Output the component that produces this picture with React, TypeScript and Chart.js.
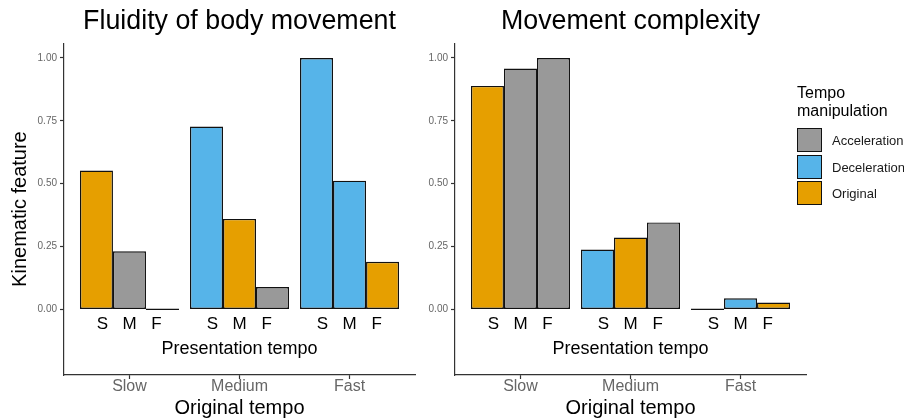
import React, { useEffect, useRef } from 'react';
import { Chart, registerables } from 'chart.js';

Chart.register(...registerables);

const FONT = '"Liberation Sans", Arial, Helvetica, sans-serif';

// Categories
const originalTempo = ['Slow', 'Medium', 'Fast'];
const presentationTempo = ['S', 'M', 'F'];
const manipulations = ['Acceleration', 'Deceleration', 'Original'];
const manipulationColors = ['#999999', '#56B4E9', '#E69F00'];

// Fluidity of body movement: values by presentation tempo (S, M, F) for original tempo Slow, Medium, Fast
const fluidityS = [0.552, 0.727, 1.0];
const fluidityM = [0.231, 0.36, 0.512];
const fluidityF = [0.0, 0.089, 0.189];

// Movement complexity
const complexityS = [0.889, 0.238, 0.0];
const complexityM = [0.958, 0.286, 0.044];
const complexityF = [1.0, 0.346, 0.027];

const yTicks = [0, 0.25, 0.5, 0.75, 1];

// manipulation index for original tempo i presented at tempo j
const manipulationOf = (i: number, j: number) => (j > i ? 0 : j < i ? 1 : 2);

const innerLabels = {
  id: 'innerLabels',
  afterDatasetsDraw(chart: any) {
    const { ctx, chartArea, scales } = chart;
    const y0 = scales.y.getPixelForValue(0);
    ctx.save();
    ctx.fillStyle = '#000';
    ctx.textAlign = 'center';
    ctx.textBaseline = 'alphabetic';
    chart.data.datasets.forEach((ds: any, di: number) => {
      const meta = chart.getDatasetMeta(di);
      meta.data.forEach((el: any, i: number) => {
        const p = el.getProps(['x', 'width'], true);
        const v = ds.data[i].y;
        if (v === 0) {
          ctx.strokeStyle = '#111';
          ctx.lineWidth = 1.4;
          ctx.beginPath();
          ctx.moveTo(p.x - p.width / 2, y0);
          ctx.lineTo(p.x + p.width / 2, y0);
          ctx.stroke();
        }
        const cx = scales.x.getPixelForValue(i);
        const lx = cx + (p.x - cx) * 0.82;
        ctx.font = `17px ${FONT}`;
        ctx.fillText(presentationTempo[di], lx, y0 + 19.5);
      });
    });
    ctx.font = `18px ${FONT}`;
    ctx.fillText('Presentation tempo', (chartArea.left + chartArea.right) / 2, y0 + 44.5);
    ctx.restore();
  },
};

function makeChart(
  canvas: HTMLCanvasElement,
  title: string,
  series: number[][],
  yTitle: string | null,
  yAxisWidth: number,
  padRight: number
) {
  const datasets = series.map((vals, j) => ({
    label: presentationTempo[j],
    data: vals.map((v, i) => ({ x: i, y: v })),
    backgroundColor: vals.map((_, i) => manipulationColors[manipulationOf(i, j)]),
    borderColor: '#111',
    borderWidth: 1.4,
    borderSkipped: false as const,
    categoryPercentage: 0.9,
    barPercentage: 1,
  }));
  return new Chart(canvas, {
    type: 'bar',
    data: { datasets },
    plugins: [innerLabels],
    options: {
      animation: false,
      responsive: true,
      maintainAspectRatio: false,
      layout: { padding: { left: 0, right: padRight, top: 0, bottom: 0 } },
      plugins: {
        legend: { display: false },
        tooltip: { enabled: false },
        title: {
          display: true,
          text: title,
          fullSize: false,
          color: '#000',
          font: { family: FONT, size: 26.8, weight: 'normal', lineHeight: 1.2 },
          padding: { top: 6, bottom: 5 },
        },
      },
      scales: {
        x: {
          type: 'linear',
          min: -0.595,
          max: 2.595,
          offset: false,
          bounds: 'data',
          afterBuildTicks: (s: any) => {
            s.ticks = originalTempo.map((_, i) => ({ value: i }));
          },
          afterFit: (s: any) => {
            s.height = 44;
          },
          ticks: {
            callback: (v: any) => originalTempo[v as number],
            color: '#666',
            font: { family: FONT, size: 16, lineHeight: 1 },
            padding: 0,
            maxRotation: 0,
            autoSkip: false,
          },
          grid: {
            display: true,
            offset: false,
            drawOnChartArea: false,
            drawTicks: true,
            tickLength: 4,
            tickColor: '#333',
            tickWidth: 1.2,
            color: '#333',
          },
          border: { display: true, color: '#333', width: 1.2 },
          title: {
            display: true,
            text: 'Original tempo',
            color: '#000',
            font: { family: FONT, size: 20, lineHeight: 1 },
            padding: { top: 0, bottom: 1 },
          },
        },
        y: {
          type: 'linear',
          min: -0.261,
          max: 1.059,
          bounds: 'data',
          afterBuildTicks: (s: any) => {
            s.ticks = yTicks.map((v) => ({ value: v }));
          },
          afterFit: (s: any) => {
            s.width = yAxisWidth;
          },
          ticks: {
            callback: (v: any) => Number(v).toFixed(2),
            color: '#666',
            font: { family: FONT, size: 10 },
            padding: 3,
          },
          grid: {
            display: true,
            drawOnChartArea: false,
            drawTicks: true,
            tickLength: 4,
            tickColor: '#333',
            tickWidth: 1.2,
            color: '#333',
          },
          border: { display: true, color: '#333', width: 1.2 },
          title: {
            display: !!yTitle,
            text: yTitle || '',
            color: '#000',
            font: { family: FONT, size: 20, lineHeight: 1 },
            padding: { top: 10.5, bottom: 0 },
          },
        },
      },
    } as any,
  });
}

export default function App() {
  const leftRef = useRef<HTMLCanvasElement>(null);
  const rightRef = useRef<HTMLCanvasElement>(null);

  useEffect(() => {
    document.body.style.margin = '0';
    const c1 = makeChart(
      leftRef.current!,
      'Fluidity of body movement',
      [fluidityS, fluidityM, fluidityF],
      'Kinematic feature',
      64,
      3
    );
    const c2 = makeChart(
      rightRef.current!,
      'Movement complexity',
      [complexityS, complexityM, complexityF],
      null,
      37,
      98
    );
    return () => {
      c1.destroy();
      c2.destroy();
    };
  }, []);

  return (
    <div
      style={{
        position: 'absolute',
        left: 0,
        top: 0,
        width: 904,
        height: 419,
        overflow: 'hidden',
        background: '#fff',
        fontFamily: FONT,
      }}
    >
      <div style={{ position: 'absolute', left: 0, top: 0, width: 418, height: 419 }}>
        <canvas ref={leftRef} />
      </div>
      <div style={{ position: 'absolute', left: 418, top: 0, width: 486, height: 419 }}>
        <canvas ref={rightRef} />
      </div>
      <div
        style={{
          position: 'absolute',
          left: 797,
          top: 84,
          fontSize: 16,
          lineHeight: '18px',
          color: '#000',
          whiteSpace: 'nowrap',
        }}
      >
        Tempo
        <br />
        manipulation
      </div>
      {manipulations.map((m, k) => (
        <React.Fragment key={m}>
          <div
            style={{
              position: 'absolute',
              left: 797,
              top: 128 + k * 26.5,
              width: 23,
              height: 22,
              border: '1.4px solid #111',
              background: manipulationColors[k],
            }}
          />
          <div
            style={{
              position: 'absolute',
              left: 832,
              top: 128 + k * 26.5,
              height: 25,
              lineHeight: '25px',
              fontSize: 13,
              color: '#1a1a1a',
              whiteSpace: 'nowrap',
            }}
          >
            {m}
          </div>
        </React.Fragment>
      ))}
    </div>
  );
}
